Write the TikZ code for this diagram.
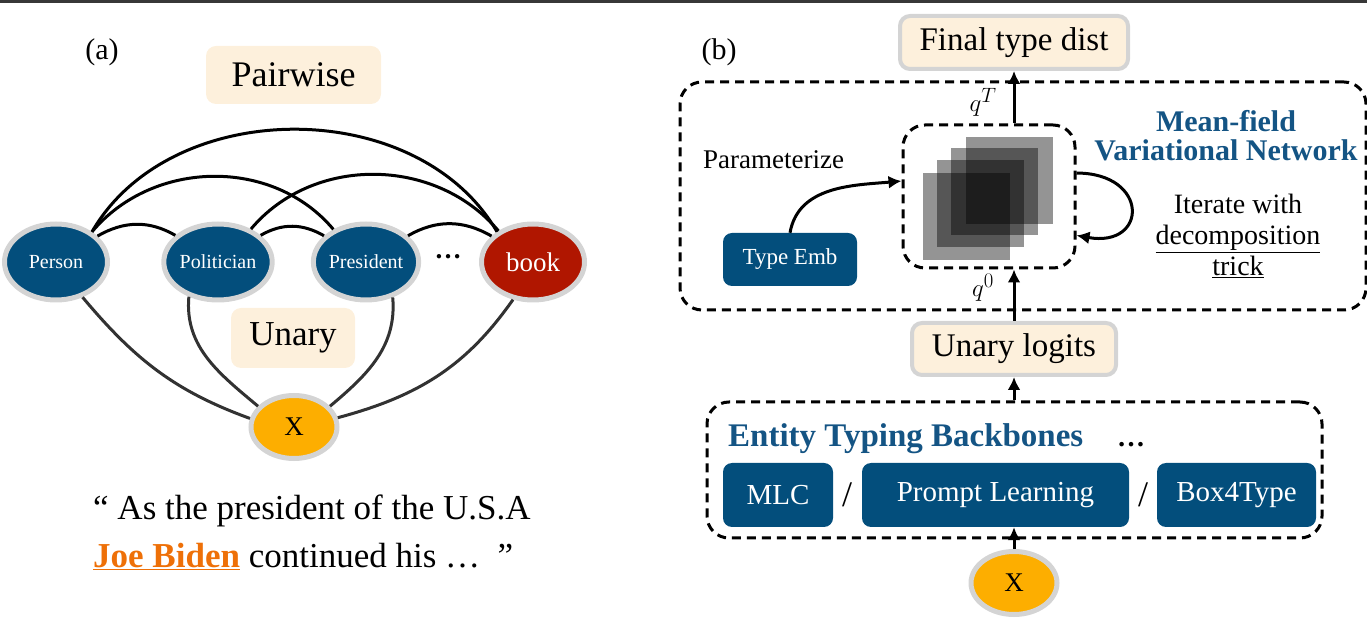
\documentclass[tikz,border=0pt]{standalone}
\usepackage{fontspec}
\setmainfont{Liberation Serif}
\usepackage{tikz}
\usetikzlibrary{shapes.geometric,arrows.meta,positioning}

\definecolor{typeblue}{RGB}{3,78,124}
\definecolor{bookred}{RGB}{176,22,0}
\definecolor{xorange}{RGB}{253,174,0}
\definecolor{cream}{RGB}{253,240,220}
\definecolor{rimgray}{RGB}{212,212,212}
\definecolor{titleblue}{RGB}{20,84,132}
\definecolor{joeorange}{RGB}{238,112,8}
\definecolor{unarygray}{RGB}{50,50,50}

\newcommand{\fs}[1]{\fontsize{#1}{#1}\selectfont}

\tikzset{
  typenode/.style={ellipse, draw=rimgray, line width=5pt, fill=typeblue, text=white,
    minimum width=103pt, minimum height=76pt, inner sep=0pt, font=\fs{20}},
  booknode/.style={typenode, fill=bookred, font=\fs{27}},
  inputnode/.style={ellipse, draw=rimgray, line width=5pt, fill=xorange, text=black,
    minimum width=86pt, minimum height=63pt, inner sep=0pt, font=\fs{27}},
  tagbox/.style={rectangle, rounded corners=10pt, fill=cream, inner sep=0pt},
  rimbox/.style={tagbox, draw=rimgray, line width=4pt},
  modelbox/.style={rectangle, rounded corners=9pt, fill=typeblue, text=white, inner sep=0pt},
  dashbox/.style={rectangle, draw=black, line width=3pt, dash pattern=on 9pt off 6pt,
    rounded corners=22pt, inner sep=0pt},
  layer/.style={rectangle, fill=black, fill opacity=0.42, minimum size=87pt, inner sep=0pt},
  pairline/.style={draw=black, line width=3pt},
  unaryline/.style={draw=unarygray, line width=3pt},
  flow/.style={draw=black, line width=3pt, -{Latex[length=13pt,width=13pt]}},
  qlabel/.style={font=\fs{30}, inner sep=0pt},
}

\begin{document}
\begin{tikzpicture}[x=1pt, y=1pt]
  \useasboundingbox (0,0) rectangle (1367,629);
  \fill[black!78] (0,626) rectangle (1367,629);

  % (a) nodes
  \node[font=\fs{30}] (labA) at (102,577) {(a)};
  \node[tagbox, minimum width=175pt, minimum height=58pt, font=\fs{36}] (pairwise) at (293.5,554) {Pairwise};
  \node[typenode] (Person) at (56,367) {Person};
  \node[typenode] (Politician) at (218,367) {Politician};
  \node[typenode] (President) at (366,367) {President};
  \node[booknode] (book) at (533,367) {book};
  \node[font=\bfseries\fs{27}] (dotsA) at (448,372) {\dots};
  \node[inputnode] (Xa) at (294,202) {X};
  \node[tagbox, minimum width=124pt, minimum height=60pt, font=\fs{35}] (unary) at (293,291) {Unary};
  \node[anchor=base west, inner sep=0pt, font=\fs{35}] (quoteA) at (93,109) {“ As the president of the U.S.A};
  \node[anchor=base west, inner sep=0pt, font=\fs{35}] (quoteB) at (93,62)
    {\textbf{\color{joeorange}\underline{Joe Biden}} continued his …\ \ ”};

  % Pairwise edges
  \draw[pairline] (Person.40) to[out=60, in=120] (book.140);
  \draw[pairline] (Person.40) to[out=50, in=130] (President.135);
  \draw[pairline] (Politician.45) to[out=50, in=130] (book.138);
  \draw[pairline] (Person.32) to[out=30, in=150] (Politician.148);
  \draw[pairline] (Politician.32) to[out=30, in=150] (President.148);
  \draw[pairline] (President.32) to[out=30, in=150] (book.148);

  % Unary edges
  \draw[unaryline] (Person.-53) to[out=-50, in=160] (Xa.169);
  \draw[unaryline] (Politician.-130) to[out=-95, in=140] (Xa.150);
  \draw[unaryline] (President.-53) to[out=-85, in=40] (Xa.30);
  \draw[unaryline] (book.-118) to[out=-125, in=15] (Xa.12);

  % (b) nodes
  \node[font=\fs{30}] (labB) at (719,577) {(b)};
  \node[rimbox, minimum width=228pt, minimum height=53pt, font=\fs{33}] (final) at (1014,586.5) {Final type dist};
  \node[dashbox, minimum width=686pt, minimum height=228pt] (meanfield) at (1023,433) {};
  \node[dashbox, minimum width=172pt, minimum height=143pt] (inner) at (989,432.5) {};
  \node[layer] (sqA) at (966.5,412.5) {};
  \node[layer] (sqB) at (980,425.5) {};
  \node[layer] (sqC) at (994.5,437) {};
  \node[layer] (sqD) at (1009,448.5) {};
  \node[font=\fs{27}] (param) at (773.5,469) {Parameterize};
  \node[modelbox, minimum width=134pt, minimum height=53pt, font=\fs{23}] (typeemb) at (790,369.5) {Type Emb};
  \node[font=\bfseries\fontsize{30}{29}\selectfont, text=titleblue, align=center] (mfvn) at (1226,493.5)
    {Mean-field\\Variational Network};
  \node[font=\fontsize{28}{31}\selectfont, align=center] (iterate) at (1238,393)
    {Iterate with\\\underline{decomposition}\\\underline{trick}};
  \node[rimbox, minimum width=204pt, minimum height=52pt, font=\fs{33}] (unlogits) at (1014,280) {Unary logits};
  \node[dashbox, minimum width=615pt, minimum height=136pt] (backbone) at (1014.5,159) {};
  \node[anchor=base west, inner sep=0pt, font=\bfseries\fs{33}, text=titleblue] (etb) at (728,182) {Entity Typing Backbones};
  \node[anchor=base west, inner sep=0pt, font=\bfseries\fs{28}] (dotsB) at (1117,182) {…};
  \node[modelbox, minimum width=110pt, minimum height=64pt, font=\fs{29}] (mlc) at (778,134) {MLC};
  \node[font=\fs{36}] (slashA) at (847,134) {/};
  \node[modelbox, minimum width=267pt, minimum height=64pt, font=\fs{29}] (prompt) at (995.5,134) {Prompt Learning};
  \node[font=\fs{36}] (slashB) at (1143,134) {/};
  \node[modelbox, minimum width=159pt, minimum height=64pt, font=\fs{29}] (box4type) at (1236.5,134) {Box4Type};
  \node[inputnode] (Xb) at (1014,46) {X};

  % Flow
  \draw[flow] (inner.north -| final.south) -- (final.south);
  \node[qlabel] (qT) at (983,527) {$q^T$};
  \draw[flow] (unlogits.north) -- (inner.south -| unlogits.north);
  \node[qlabel] (q0) at (983,341) {$q^0$};
  \draw[flow] (backbone.north -| unlogits.south) -- (unlogits.south);
  \draw[flow] (Xb.north) -- (prompt.south -| Xb.north);
  \draw[flow] (typeemb.north) to[out=80, in=185] (inner.170);
  \draw[flow] (inner.15) to[out=0, in=-10, looseness=3] (inner.-24);

\end{tikzpicture}
\end{document}
